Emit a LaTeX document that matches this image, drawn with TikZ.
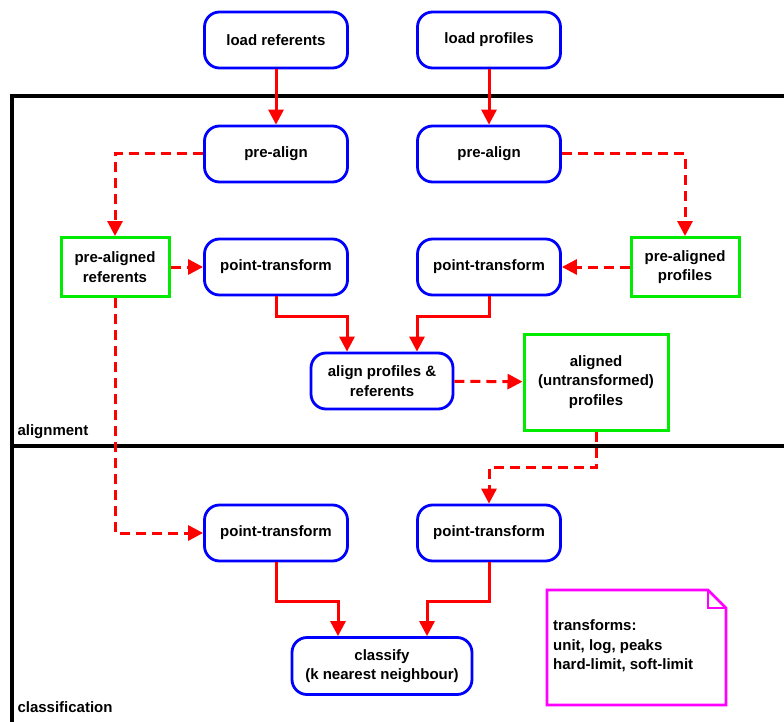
\documentclass[tikz,border=0pt]{standalone}
\usepackage{fontspec}
\setmainfont{Liberation Sans}
\usetikzlibrary{arrows.meta}
\definecolor{FlowRed}{RGB}{255,0,0}
\definecolor{StepBlue}{RGB}{0,0,255}
\definecolor{DataGreen}{RGB}{0,235,0}
\definecolor{NoteMagenta}{RGB}{255,0,255}

\tikzset{
  stepbox/.style={draw=StepBlue,line width=2.8pt,rounded corners=15pt,
    minimum width=143pt,minimum height=56pt,align=center,inner sep=2pt,
    font=\bfseries\fontsize{15}{19.5}\selectfont},
  databox/.style={draw=DataGreen,line width=3pt,align=center,inner sep=2pt,
    font=\bfseries\fontsize{15}{19.5}\selectfont},
  flow/.style={draw=FlowRed,line width=3pt,-{Triangle[width=15pt,length=15pt]}},
  dflow/.style={flow,dash pattern=on 10pt off 6pt},
  lane/.style={line width=3.5pt},
  lanelabel/.style={anchor=west,font=\bfseries\fontsize{15}{18}\selectfont},
}

\begin{document}
\begin{tikzpicture}[x=1pt,y=-1pt]
  \useasboundingbox (0,0) rectangle (784,722);

  % lanes
  \draw[lane] (12,730) -- (12,96) -- (790,96);
  \draw[lane] (12,446) -- (790,446);
  \node[lanelabel] (laneAlign) at (14,432) {alignment};
  \node[lanelabel] (laneClass) at (14,707) {classification};

  % steps
  \node[stepbox] (loadRef)  at (276,40)  {load referents};
  \node[stepbox] (loadProf) at (489,40)  {load profiles};
  \node[stepbox] (preRef)   at (276,154) {pre-align};
  \node[stepbox] (preProf)  at (489,154) {pre-align};
  \node[stepbox] (ptRef)    at (276,267) {point-transform};
  \node[stepbox] (ptProf)   at (489,267) {point-transform};
  \node[stepbox,minimum width=142pt] (align) at (382,381) {align profiles \&\\referents};
  \node[stepbox] (ptbRef)   at (276,533) {point-transform};
  \node[stepbox] (ptbProf)  at (489,533) {point-transform};
  \node[stepbox,minimum width=180pt,minimum height=57pt] (classify) at (382,666)
    {classify\\(k nearest neighbour)};

  % data
  \node[databox,minimum width=108pt,minimum height=59pt] (preAlRef)  at (115,267) {pre-aligned\\referents};
  \node[databox,minimum width=108pt,minimum height=59pt] (preAlProf) at (685,267) {pre-aligned\\profiles};
  \node[databox,minimum width=144pt,minimum height=96pt] (aligned)   at (596,382) {aligned\\(untransformed)\\profiles};

  % note
  \draw[NoteMagenta,line width=2.8pt] (547,590) -- (708,590) -- (726,608) -- (726,705) -- (547,705) -- cycle;
  \draw[NoteMagenta,line width=2.8pt] (708,590) -- (708,608) -- (726,608);
  \node[anchor=west,align=left,inner sep=0pt,font=\bfseries\fontsize{15}{19.5}\selectfont] (note) at (553,646)
    {transforms:\\unit, log, peaks\\hard-limit, soft-limit};

  % connectors
  \draw[flow] (loadRef) -- (preRef);
  \draw[flow] (loadProf) -- (preProf);
  \draw[dflow] (preRef.west) -| (preAlRef.north);
  \draw[dflow] (preProf.east) -| (preAlProf.north);
  \draw[dflow] (preAlRef) -- (ptRef);
  \draw[dflow] (preAlProf) -- (ptProf);
  \draw[flow] (ptRef.south) -- ++(0,20) -| ([xshift=-35pt]align.north);
  \draw[flow] (ptProf.south) -- ++(0,20) -| ([xshift=35pt]align.north);
  \draw[dflow] (align) -- (aligned);
  \draw[dflow] (aligned.south) -- ++(0,36) -| (ptbProf.north);
  \draw[dflow] (preAlRef.south) |- (ptbRef.west);
  \draw[flow] (ptbRef.south) -- ++(0,39) -| ([xshift=-44pt]classify.north);
  \draw[flow] (ptbProf.south) -- ++(0,39) -| ([xshift=45pt]classify.north);
\end{tikzpicture}
\end{document}
